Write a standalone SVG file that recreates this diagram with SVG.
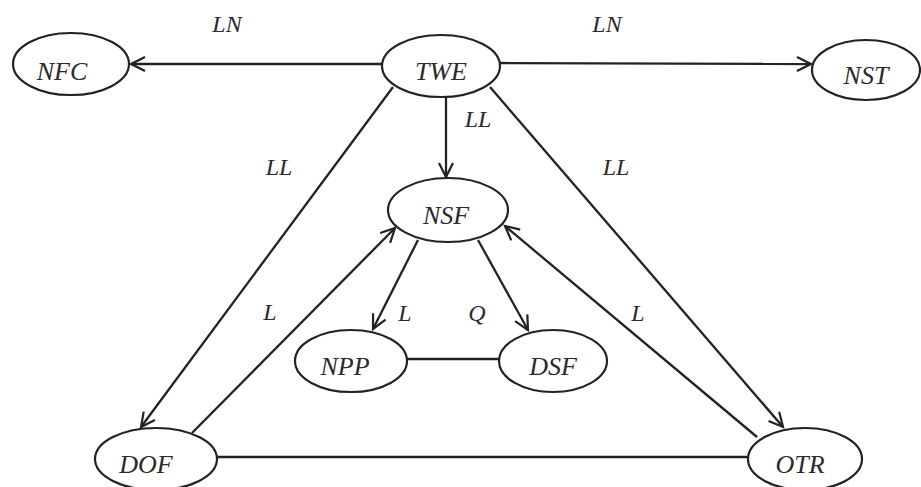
<svg xmlns="http://www.w3.org/2000/svg" width="921" height="487" viewBox="0 0 921 487">
  <style>
    .node ellipse { fill: #ffffff; stroke: #222222; stroke-width: 2.2; }
    .node text { font-family: "Liberation Serif", "Times New Roman", serif; font-style: italic; font-size: 26px; fill: #2a2a2a; text-anchor: middle; }
    .edge { stroke: #222222; stroke-width: 2.3; fill: none; }
    .arrow { marker-end: url(#open-arrow); }
    .label { font-family: "Liberation Serif", "Times New Roman", serif; font-style: italic; font-size: 24px; fill: #2a2a2a; text-anchor: middle; }
  </style>
  <defs>
    <!-- open "V" arrowhead shared by all directed connectors -->
    <marker id="open-arrow" markerUnits="userSpaceOnUse" markerWidth="20" markerHeight="20" viewBox="-16 -10 18 20" refX="0" refY="0" orient="auto">
      <path d="M -14 -7 L 0 0 L -14 7" fill="none" stroke="#222222" stroke-width="2.2"/>
    </marker>
  </defs>
  <rect width="921" height="487" fill="#ffffff"/>

  <!-- connectors -->
  <g id="connectors">
    <line class="edge arrow" x1="382" y1="64" x2="131" y2="64"/>
    <line class="edge arrow" x1="500" y1="63" x2="811" y2="64"/>
    <line class="edge arrow" x1="446" y1="97" x2="446" y2="177"/>
    <line class="edge arrow" x1="393" y1="87" x2="141" y2="427"/>
    <line class="edge arrow" x1="490" y1="87" x2="783" y2="427"/>
    <line class="edge arrow" x1="418" y1="240" x2="373" y2="329"/>
    <line class="edge arrow" x1="478" y1="240" x2="528" y2="330"/>
    <line class="edge arrow" x1="192" y1="433" x2="395" y2="228"/>
    <line class="edge arrow" x1="757" y1="437" x2="505" y2="226"/>
    <line class="edge" x1="407" y1="359" x2="500" y2="359"/>
    <line class="edge" x1="217" y1="457" x2="748" y2="457"/>
  </g>

  <!-- connector labels -->
  <g id="labels">
    <text class="label" x="227" y="32">LN</text>
    <text class="label" x="607" y="32">LN</text>
    <text class="label" x="478" y="127">LL</text>
    <text class="label" x="279" y="175">LL</text>
    <text class="label" x="616" y="175">LL</text>
    <text class="label" x="270" y="320">L</text>
    <text class="label" x="405" y="321">L</text>
    <text class="label" x="477" y="321">Q</text>
    <text class="label" x="638" y="321">L</text>
  </g>

  <!-- nodes -->
  <g id="NFC" class="node">
    <ellipse cx="71" cy="64" rx="58" ry="31"/>
    <text x="62" y="80">NFC</text>
  </g>
  <g id="TWE" class="node">
    <ellipse cx="441" cy="66" rx="59" ry="31"/>
    <text x="441" y="80">TWE</text>
  </g>
  <g id="NST" class="node">
    <ellipse cx="866" cy="70" rx="54" ry="30"/>
    <text x="866" y="84">NST</text>
  </g>
  <g id="NSF" class="node">
    <ellipse cx="448" cy="210" rx="60" ry="32"/>
    <text x="446" y="224">NSF</text>
  </g>
  <g id="NPP" class="node">
    <ellipse cx="351" cy="361" rx="56" ry="31"/>
    <text x="345" y="375">NPP</text>
  </g>
  <g id="DSF" class="node">
    <ellipse cx="553" cy="361" rx="54" ry="31"/>
    <text x="553" y="375">DSF</text>
  </g>
  <g id="DOF" class="node">
    <ellipse cx="156" cy="459" rx="61" ry="31"/>
    <text x="146" y="473">DOF</text>
  </g>
  <g id="OTR" class="node">
    <ellipse cx="805" cy="459" rx="57" ry="31"/>
    <text x="800" y="473">OTR</text>
  </g>
</svg>
